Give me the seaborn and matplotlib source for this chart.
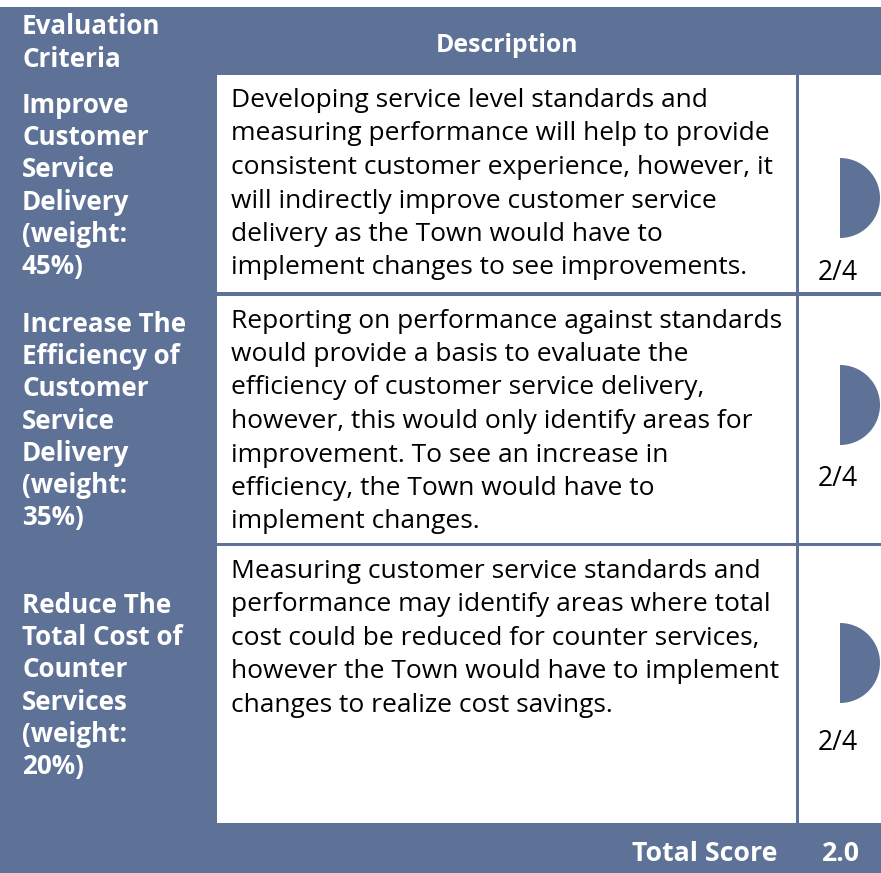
import matplotlib
matplotlib.use("Agg")
import matplotlib.pyplot as plt
from matplotlib.patches import Rectangle, Wedge
import seaborn as sns

# ---------------- data ----------------
header_criteria = ["Evaluation", "Criteria"]
header_description = "Description"
criteria_lines = [
    ["Improve", "Customer", "Service", "Delivery", "(weight:", "45%)"],
    ["Increase The", "Efficiency of", "Customer", "Service", "Delivery", "(weight:", "35%)"],
    ["Reduce The", "Total Cost of", "Counter", "Services", "(weight:", "20%)"],
]
description_lines = [
    ["Developing service level standards and",
     "measuring performance will help to provide",
     "consistent customer experience, however, it",
     "will indirectly improve customer service",
     "delivery as the Town would have to",
     "implement changes to see improvements."],
    ["Reporting on performance against standards",
     "would provide a basis to evaluate the",
     "efficiency of customer service delivery,",
     "however, this would only identify areas for",
     "improvement. To see an increase in",
     "efficiency, the Town would have to",
     "implement changes."],
    ["Measuring customer service standards and",
     "performance may identify areas where total",
     "cost could be reduced for counter services,",
     "however the Town would have to implement",
     "changes to realize cost savings."],
]
scores = [2, 2, 2]
score_max = 4
total_label = "Total Score"
total_score = 2.0

# ---------------- style ----------------
sns.set_theme(style="white")
plt.rcParams["font.family"] = ["Open Sans", "DejaVu Sans"]
BLUE = "#5E7298"
W, H = 881, 873

fig = plt.figure(figsize=(W / 100, H / 100), dpi=100)
ax = fig.add_axes([0, 0, 1, 1])
ax.set_xlim(0, W)
ax.set_ylim(H, 0)
ax.axis("off")

# table geometry (pixels)
table_top = 7
row_tops = [75, 296, 546]
row_bottoms = [292, 543, 823]
col_desc = (217, 796)
col_score = (799, 881)

ax.add_patch(Rectangle((0, table_top), W, H - table_top, color=BLUE, lw=0))
for top, bot in zip(row_tops, row_bottoms):
    ax.add_patch(Rectangle((col_desc[0], top), col_desc[1] - col_desc[0], bot - top,
                           color="white", lw=0))
    ax.add_patch(Rectangle((col_score[0], top), col_score[1] - col_score[0], bot - top,
                           color="white", lw=0))

renderer = fig.canvas.get_renderer()


def fit_size(text, target_px, weight):
    t = ax.text(0, 0, text, fontsize=20, fontweight=weight)
    w = t.get_window_extent(renderer).width
    t.remove()
    return 20 * target_px / w


fs_desc = fit_size("measuring performance will help to provide", 536, "normal")
fs_bold = fit_size("Total Cost of", 161, "bold")
fs_head = fit_size("Description", 142, "bold")
fs_foot = fit_size("Total Score", 145, "bold")
fs_frac = fit_size("2/4", 40, "normal")

# header
ax.text(22, 34, header_criteria[0], color="white", fontsize=fs_bold, fontweight="bold")
ax.text(22, 67, header_criteria[1], color="white", fontsize=fs_bold, fontweight="bold")
ax.text((col_desc[0] + col_desc[1]) / 2, 52, header_description, color="white",
        fontsize=fs_head, fontweight="bold", ha="center")

# rows
crit_first = [113, 332, 613]
crit_step = 32.2
desc_first = [107, 327.5, 577.5]
desc_step = 33.5
frac_base = [280, 486, 750]
ball_cy = [198, 405, 663]
radius = 40

for i in range(3):
    for j, line in enumerate(criteria_lines[i]):
        ax.text(22, crit_first[i] + j * crit_step, line, color="white",
                fontsize=fs_bold, fontweight="bold", va="baseline")
    for j, line in enumerate(description_lines[i]):
        ax.text(231, desc_first[i] + j * desc_step, line, color="black",
                fontsize=fs_desc, va="baseline")
    frac = scores[i] / score_max
    ax.add_patch(Wedge((840, ball_cy[i]), radius, -90, -90 + 360 * frac,
                       color=BLUE, lw=0))
    ax.text(838, frac_base[i], f"{scores[i]}/{score_max}", color="black",
            fontsize=fs_frac, ha="center", va="baseline")

# footer
ax.text(777, 861, total_label, color="white", fontsize=fs_foot, fontweight="bold",
        ha="right", va="baseline")
ax.text(841, 861, f"{total_score:.1f}", color="white", fontsize=fs_foot,
        fontweight="bold", ha="center", va="baseline")

fig.savefig("out.png", dpi=100, facecolor="white")
